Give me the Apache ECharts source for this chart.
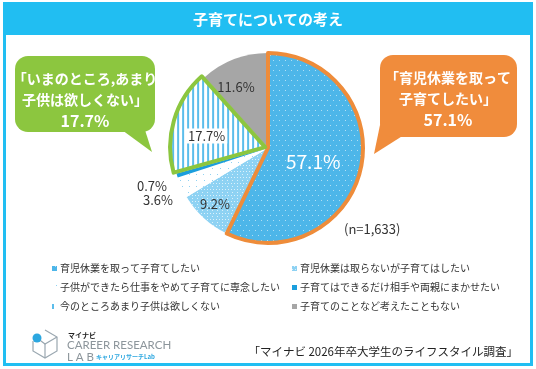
<!DOCTYPE html>
<html><head><meta charset="utf-8">
<script src="https://cdn.jsdelivr.net/npm/echarts@6/dist/echarts.min.js"></script>
<style>html,body{margin:0;padding:0;background:#fff}#c{width:536px;height:369px}</style>
</head><body><div id="c"></div>
<script>
const categories = [
  '育児休業を取って子育てしたい',
  '育児休業は取らないが子育てはしたい',
  '子供ができたら仕事をやめて子育てに専念したい',
  '子育てはできるだけ相手や両親にまかせたい',
  '今のところあまり子供は欲しくない',
  '子育てのことなど考えたこともない'
];
const values = [57.1, 9.2, 3.6, 0.7, 17.7, 11.6];
const sampleNote = '(n=1,633)';
const titleText = '子育てについての考え';
const sourceText = '「マイナビ 2026年卒大学生のライフスタイル調査」';
const calloutLeft = ['「いまのところ,あまり', '子供は欲しくない」', '17.7%'];
const calloutRight = ['「育児休業を取って', '子育てしたい」', '57.1%'];

const FONT = '"Noto Sans CJK JP", "Noto Sans", sans-serif';
const BLUE = '#21BEF2';
const styles = [
  {color:'#4DB6E9', decal:{symbol:'circle', symbolSize:1, color:'rgba(255,255,255,0.75)', dashArrayX:[[1,5],[0,3,1,2]], dashArrayY:[1,4]}},
  {color:'#8ED2F3', decal:{symbol:'circle', symbolSize:1, color:'rgba(255,255,255,0.9)', dashArrayX:[[1,2],[0,1.5,1,1.5]], dashArrayY:[1,1.5]}},
  {color:'#FFFFFF', decal:{symbol:'circle', symbolSize:1, color:'#6EC4EE', dashArrayX:[[1,6],[0,3.5,1,2.5]], dashArrayY:[1,5]}},
  {color:'#1B9EDD'},
  {color:'#FFFFFF', decal:{symbol:'rect', symbolSize:1, color:'#5BBDEB', dashArrayX:[1.3,2.7], dashArrayY:[10,0]}},
  {color:'#A6A6A6'}
];
const borders = [
  {borderColor:'#EE8C3A', borderWidth:4},
  null, null, null,
  {borderColor:'#8CC63F', borderWidth:4},
  null
];
// label placement tweaks (style, not data)
const labelOffsets = [[-4,3],[-19,19],null,null,[-10,3],[-14,-14]];
const outerLabelPos = {2:[173,200], 3:[167,186]};

const chart = echarts.init(document.getElementById('c'), null, {renderer:'canvas'});
const center = [268, 148];
const radius = 95;
const explodedIndex = 4;

const fillData = values.map((v,i)=>{
  const d = {
    name: categories[i], value: v, selected: i===explodedIndex,
    itemStyle: Object.assign({borderWidth:0}, styles[i]),
    label: i===0 ? {color:'#fff', fontSize:19} : (i===explodedIndex ? {backgroundColor:'#fff', padding:[1,2]} : {})
  };
  if (outerLabelPos[i]) { d.label = {position:'outside'}; d.labelLine = {show:false, length:8, length2:0}; }
  return d;
});
const borderData = values.map((v,i)=>({
  name: categories[i], value: v, selected: i===explodedIndex,
  itemStyle: borders[i] ? Object.assign({color:'rgba(0,0,0,0)'}, borders[i]) : {color:'rgba(0,0,0,0)', borderWidth:0}
}));

function bubble(x, y, w, h, tail, color, lines, cx) {
  return {
    type:'group', children:[
      {type:'polygon', shape:{points:tail}, style:{fill:color}},
      {type:'rect', shape:{x:x, y:y, width:w, height:h, r:13}, style:{fill:color}},
      {type:'text', style:{x:cx, y:y+23, text:lines[0], fill:'#fff', font:'bold 14px '+FONT, align:'center', verticalAlign:'middle'}},
      {type:'text', style:{x:cx, y:y+44, text:lines[1], fill:'#fff', font:'bold 14px '+FONT, align:'center', verticalAlign:'middle'}},
      {type:'text', style:{x:cx, y:y+65, text:lines[2], fill:'#fff', font:'bold 16px '+FONT, align:'center', verticalAlign:'middle'}}
    ]
  };
}

const legendCommon = {
  orient:'vertical', icon:'rect', itemWidth:5, itemHeight:5, itemGap:6,
  textStyle:{fontSize:10, color:'#333', fontFamily:FONT, padding:[0,0,0,-2], lineHeight:13},
  selectedMode:false
};

chart.setOption({
  animation:false,
  textStyle:{fontFamily:FONT},
  legend:[
    Object.assign({left:47, top:257, data:[categories[0], categories[2], categories[4]]}, legendCommon),
    Object.assign({left:287, top:257, data:[categories[1], categories[3], categories[5]]}, legendCommon)
  ],
  series:[
    {
      type:'pie', center:center, radius:[0,radius], startAngle:90, clockwise:true,
      avoidLabelOverlap:false, z:2, selectedMode:'single', selectedOffset:3,
      emphasis:{disabled:true},
      label:{show:true, position:'inside', formatter:'{c}%', fontSize:13, color:'#333', fontFamily:FONT},
      labelLayout:function(p){
        const op = outerLabelPos[p.dataIndex];
        if (op) return {x:op[0], y:op[1], align:'right', verticalAlign:'middle'};
        const o = labelOffsets[p.dataIndex];
        return {dx:o[0], dy:o[1]};
      },
      data: fillData
    },
    {
      type:'pie', center:center, radius:[0,radius], startAngle:90, clockwise:true, silent:true, z:3,
      selectedMode:'single', selectedOffset:3, emphasis:{disabled:true},
      label:{show:false}, labelLine:{show:false}, legendHoverLink:false,
      data: borderData
    }
  ],
  graphic:[
    {type:'rect', shape:{x:4.5, y:3.5, width:527, height:361}, style:{fill:'none', stroke:BLUE, lineWidth:3}},
    {type:'rect', shape:{x:3, y:2, width:530, height:33}, style:{fill:BLUE}},
    {type:'text', style:{x:268, y:19, text:titleText, fill:'#fff', font:'bold 15px '+FONT, align:'center', verticalAlign:'middle'}},
    bubble(15, 56, 140, 76, [[122,130],[145,130],[152,152]], '#8CC63F', calloutLeft, 85),
    bubble(380, 55, 137, 82, [[380,125],[404,135],[374,154]], '#F08C3C', calloutRight, 448),
    {type:'text', style:{x:344, y:229, text:sampleNote, fill:'#333', font:'13px '+FONT, verticalAlign:'middle'}},
    {type:'text', style:{x:518, y:352, text:sourceText, fill:'#222', font:'11.5px '+FONT, align:'right', verticalAlign:'middle'}},
    // logo
    {type:'polyline', shape:{points:[[45,330],[57,337],[57,351],[45,358],[33,351],[33,341]]}, style:{stroke:'#9AA7B0', lineWidth:1.2, fill:'none'}},
    {type:'polyline', shape:{points:[[37,338],[45,344],[57,337]]}, style:{stroke:'#9AA7B0', lineWidth:1.2, fill:'none'}},
    {type:'polyline', shape:{points:[[45,344],[45,358]]}, style:{stroke:'#9AA7B0', lineWidth:1.2, fill:'none'}},
    {type:'circle', shape:{cx:37, cy:338, r:4.5}, style:{fill:'#2CA7E0'}},
    {type:'text', style:{x:68, y:335, text:'マイナビ', fill:'#222', font:'bold 7px '+FONT, verticalAlign:'middle'}},
    {type:'text', style:{x:67, y:345, text:'CAREER RESEARCH', fill:'#8C959B', font:'11.5px Lato, sans-serif', verticalAlign:'middle'}},
    {type:'text', style:{x:67, y:357, text:'L A B', fill:'#8C959B', font:'11.5px Lato, sans-serif', verticalAlign:'middle'}},
    {type:'text', style:{x:96, y:357, text:'キャリアリサーチLab', fill:'#2CA7E0', font:'bold 6px '+FONT, verticalAlign:'middle'}}
  ]
});
</script></body></html>
